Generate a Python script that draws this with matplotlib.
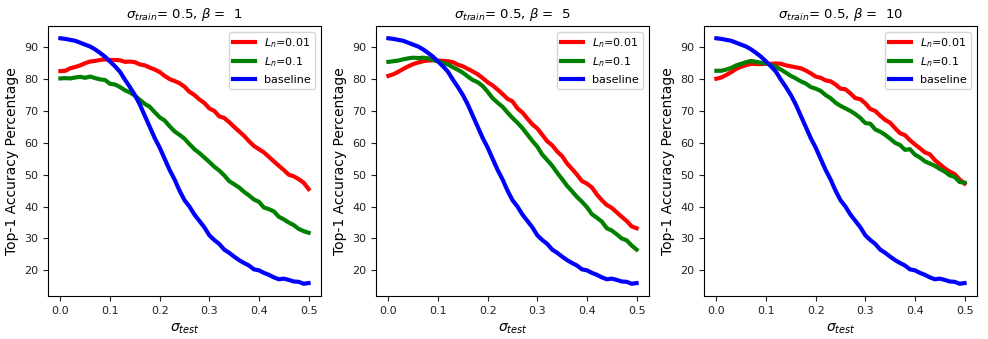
import numpy as np
import matplotlib
matplotlib.use("Agg")
import matplotlib.pyplot as plt

sigma_test = [round(0.01 * i, 2) for i in range(51)]

baseline = [92.8, 92.6, 92.3, 92.0, 91.4, 90.8, 90.2, 89.3, 88.2, 87.0,
            85.5, 84.0, 82.3, 79.8, 77.5, 75.0, 72.0, 68.5, 65.0, 61.5,
            58.5, 55.0, 51.5, 48.5, 45.0, 42.0, 40.0, 37.5, 35.5, 33.5,
            31.0, 29.5, 28.3, 26.5, 25.5, 24.3, 23.2, 22.3, 21.5, 20.3,
            20.0, 19.2, 18.6, 17.8, 17.2, 17.4, 17.0, 16.5, 16.4, 15.8, 16.0]

b1_ln001 = [82.5, 82.6, 83.4, 83.8, 84.3, 85.0, 85.5, 85.7, 86.0, 86.2,
            86.0, 86.0, 85.9, 85.4, 85.5, 85.3, 84.6, 84.3, 83.6, 83.0,
            82.2, 81.0, 80.0, 79.4, 78.7, 77.6, 76.0, 75.0, 73.6, 72.5,
            70.8, 70.0, 68.3, 67.8, 66.5, 65.0, 63.6, 62.2, 60.5, 59.0,
            58.0, 57.0, 55.6, 54.2, 52.8, 51.5, 50.0, 49.5, 48.6, 47.5, 45.5]
b1_ln01 = [80.2, 80.3, 80.2, 80.5, 80.7, 80.4, 80.8, 80.3, 79.9, 79.7,
           78.5, 78.3, 77.5, 76.5, 75.8, 74.8, 73.5, 72.2, 71.3, 69.6,
           68.0, 67.0, 65.2, 63.6, 62.5, 61.3, 59.6, 58.0, 56.8, 55.4,
           54.0, 52.5, 51.3, 49.8, 48.0, 47.0, 46.0, 44.6, 43.5, 42.2,
           41.5, 39.7, 39.2, 38.5, 36.8, 36.0, 35.0, 34.2, 33.0, 32.3, 31.8]

b5_ln001 = [81.0, 81.5, 82.3, 83.2, 84.0, 84.7, 85.2, 85.6, 85.8, 85.9,
            85.8, 85.7, 85.6, 85.3, 84.5, 84.0, 83.2, 82.4, 81.5, 80.3,
            79.0, 78.0, 76.7, 75.3, 73.8, 73.0, 70.8, 69.5, 67.6, 65.8,
            64.5, 62.5, 60.5, 59.2, 57.3, 55.8, 53.5, 51.8, 50.0, 48.0,
            47.2, 46.0, 43.8, 42.0, 40.5, 39.6, 38.2, 36.8, 35.5, 33.8, 33.2]
b5_ln01 = [85.4, 85.6, 85.8, 86.2, 86.5, 86.7, 86.6, 86.7, 86.5, 86.0,
           85.6, 85.0, 84.6, 83.7, 82.9, 82.0, 80.8, 79.7, 79.0, 77.8,
           76.0, 74.0, 72.6, 71.3, 69.5, 67.8, 66.3, 64.6, 62.6, 60.6,
           58.8, 56.3, 54.6, 52.8, 50.6, 48.6, 46.5, 44.8, 43.0, 41.5,
           39.8, 37.6, 36.5, 35.3, 33.2, 32.5, 31.3, 30.0, 29.4, 27.8, 26.5]

b10_ln001 = [80.1, 80.5, 81.3, 82.2, 83.2, 83.9, 84.4, 84.8, 84.7, 84.7,
             84.8, 84.8, 84.9, 84.8, 84.3, 84.0, 83.7, 83.4, 82.7, 81.8,
             80.8, 80.4, 79.6, 79.3, 78.3, 77.0, 76.8, 75.5, 74.0, 73.7,
             72.4, 70.6, 70.0, 68.5, 67.2, 66.3, 64.6, 63.0, 62.4, 60.8,
             59.5, 58.3, 57.0, 56.4, 54.6, 53.3, 52.0, 51.0, 50.2, 48.5, 47.2]
b10_ln01 = [82.6, 82.6, 83.0, 83.5, 84.3, 84.8, 85.3, 85.7, 85.4, 85.1,
            84.9, 84.5, 83.8, 83.0, 82.0, 81.0, 80.2, 79.3, 78.6, 77.5,
            77.0, 76.3, 75.0, 74.0, 72.6, 71.6, 70.8, 70.0, 69.0, 67.8,
            66.2, 66.0, 64.2, 63.5, 62.5, 61.3, 60.0, 59.3, 57.8, 58.0,
            56.3, 55.4, 54.2, 53.5, 52.8, 51.8, 51.0, 49.8, 49.3, 47.7, 47.5]

betas = [1, 5, 10]
ln001_series = [b1_ln001, b5_ln001, b10_ln001]
ln01_series = [b1_ln01, b5_ln01, b10_ln01]
legend_labels = [r"$L_n$=0.01", r"$L_n$=0.1", "baseline"]

W, H = 988, 339
fig = plt.figure(figsize=(W / 100, H / 100), dpi=100)
lefts = [48, 376, 704]
for i, beta in enumerate(betas):
    ax = fig.add_axes([lefts[i] / W, 43 / H, 273 / W, 270 / H])
    ax.plot(sigma_test, ln001_series[i], color="red", lw=3, label=legend_labels[0])
    ax.plot(sigma_test, ln01_series[i], color="green", lw=3, label=legend_labels[1])
    ax.plot(sigma_test, baseline, color="blue", lw=3, label=legend_labels[2])
    ax.set_title(r"$\sigma_{train}$= 0.5, $\beta$ =  " + str(beta), fontsize=9.5)
    ax.set_xlabel(r"$\sigma_{test}$", fontsize=10)
    ax.set_ylabel("Top-1 Accuracy Percentage", fontsize=10)
    ax.set_xticks([0.0, 0.1, 0.2, 0.3, 0.4, 0.5])
    ax.set_yticks([20, 30, 40, 50, 60, 70, 80, 90])
    ax.tick_params(labelsize=8, colors="#222222")
    ax.legend(loc="upper right", fontsize=8)

fig.savefig("out.png", dpi=100)
